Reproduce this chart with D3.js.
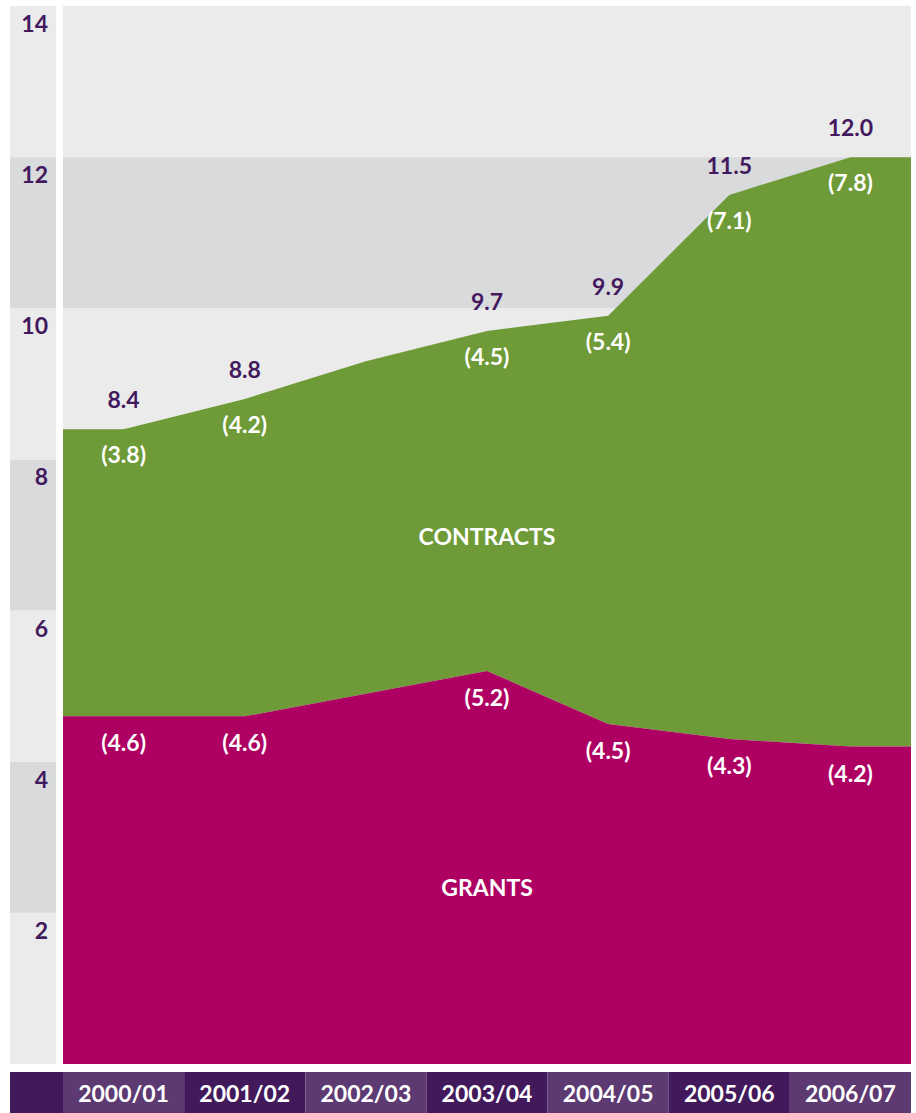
<!DOCTYPE html>
<html>
<head>
<meta charset="utf-8">
<script src="https://cdn.jsdelivr.net/npm/d3@7"></script>
<style>
  body { margin: 0; background: #fff; }
  text { font-family: "Lato", "Open Sans", sans-serif; }
</style>
</head>
<body>
<div id="chart"></div>
<script>
// values in billions
var years = ["2000/01", "2001/02", "2002/03", "2003/04", "2004/05", "2005/06", "2006/07"];
var grants = [4.6, 4.6, 4.9, 5.2, 4.5, 4.3, 4.2];
var contracts = [3.8, 4.2, 4.4, 4.5, 5.4, 7.1, 7.8];
var totals = [8.4, 8.8, 9.3, 9.7, 9.9, 11.5, 12.0];
var labelled = [true, true, false, true, true, true, true];
var yTicks = [2, 4, 6, 8, 10, 12, 14];

var W = 916, H = 1113;
var mLeft = 63, mRight = 911, mTop = 6, mBottom = 1064;
var purple = "#43195e", green = "#6e9a37", magenta = "#ae0062";
var fs = "23px";

var svg = d3.select("#chart").append("svg")
  .attr("width", W).attr("height", H);

var y = d3.scaleLinear().domain([0, 14]).range([mBottom, mTop]);
var x = d3.scaleBand().domain(years).range([mLeft, mRight]);
var cx = function(i) { return x(years[i]) + x.bandwidth() / 2; };

// background bands, alternating light / darker
var bands = svg.append("g");
yTicks.forEach(function(t, i) {
  var fill = (i % 2 === 0) ? "#ebebeb" : "#d9dadc";
  [[10, 56], [mLeft, mRight]].forEach(function(r) {
    bands.append("rect")
      .attr("x", r[0]).attr("width", r[1] - r[0])
      .attr("y", y(t)).attr("height", y(t - 2) - y(t))
      .attr("fill", fill);
  });
});

// y tick labels at the top of each band
svg.append("g").selectAll("text").data(yTicks).enter().append("text")
  .attr("x", 48).attr("y", function(d) { return y(d) + 26; })
  .attr("text-anchor", "end")
  .attr("font-size", fs).attr("font-weight", 700)
  .attr("fill", purple)
  .text(function(d) { return d; });

// points extended flat to the plot edges
function pts(arr) {
  var p = arr.map(function(v, i) { return [cx(i), v]; });
  return [[mLeft, arr[0]]].concat(p).concat([[mRight, arr[arr.length - 1]]]);
}
var gp = pts(grants), tp = pts(totals);

var areaG = d3.area()
  .x(function(d) { return d[0]; })
  .y0(y(0))
  .y1(function(d) { return y(d[1]); });

var areaC = d3.area()
  .x(function(d) { return d[0]; })
  .y0(function(d, i) { return y(gp[i][1]); })
  .y1(function(d) { return y(d[1]); });

svg.append("path").datum(tp).attr("d", areaC).attr("fill", green);
svg.append("path").datum(gp).attr("d", areaG).attr("fill", magenta);

// value labels
var rows = years.map(function(yr, i) {
  return {i: i, g: grants[i], c: contracts[i], t: totals[i]};
}).filter(function(d) { return labelled[d.i]; });

var lab = svg.append("g").attr("font-size", fs).attr("font-weight", 700)
  .attr("text-anchor", "middle");

lab.selectAll("text.tot").data(rows).enter().append("text").attr("class", "tot")
  .attr("x", function(d) { return cx(d.i); })
  .attr("y", function(d) { return y(d.t) - 21; })
  .attr("fill", purple)
  .text(function(d) { return d.t.toFixed(1); });

lab.selectAll("text.con").data(rows).enter().append("text").attr("class", "con")
  .attr("x", function(d) { return cx(d.i); })
  .attr("y", function(d) { return y(d.t) + 34; })
  .attr("fill", "#fff")
  .text(function(d) { return "(" + d.c.toFixed(1) + ")"; });

lab.selectAll("text.gr").data(rows).enter().append("text").attr("class", "gr")
  .attr("x", function(d) { return cx(d.i); })
  .attr("y", function(d) { return y(d.g) + 35; })
  .attr("fill", "#fff")
  .text(function(d) { return "(" + d.g.toFixed(1) + ")"; });

// series names
lab.append("text").attr("x", cx(3)).attr("y", 545).attr("fill", "#fff")
  .text("CONTRACTS");
lab.append("text").attr("x", cx(3)).attr("y", 896).attr("fill", "#fff")
  .text("GRANTS");

// x axis bar
var xb = svg.append("g");
xb.append("rect").attr("x", 10).attr("y", 1072).attr("width", mLeft - 10).attr("height", H - 1072)
  .attr("fill", "#421a5c");
xb.selectAll("rect.yr").data(years).enter().append("rect").attr("class", "yr")
  .attr("x", function(d) { return x(d); }).attr("y", 1072)
  .attr("width", x.bandwidth()).attr("height", H - 1072)
  .attr("fill", function(d, i) { return i % 2 === 0 ? "#5e3a73" : "#421a5c"; });
xb.selectAll("text").data(years).enter().append("text")
  .attr("x", function(d) { return x(d) + x.bandwidth() / 2; })
  .attr("y", 1102)
  .attr("text-anchor", "middle")
  .attr("font-size", fs).attr("font-weight", 700)
  .attr("fill", "#fff")
  .text(function(d) { return d; });
</script>
</body>
</html>
